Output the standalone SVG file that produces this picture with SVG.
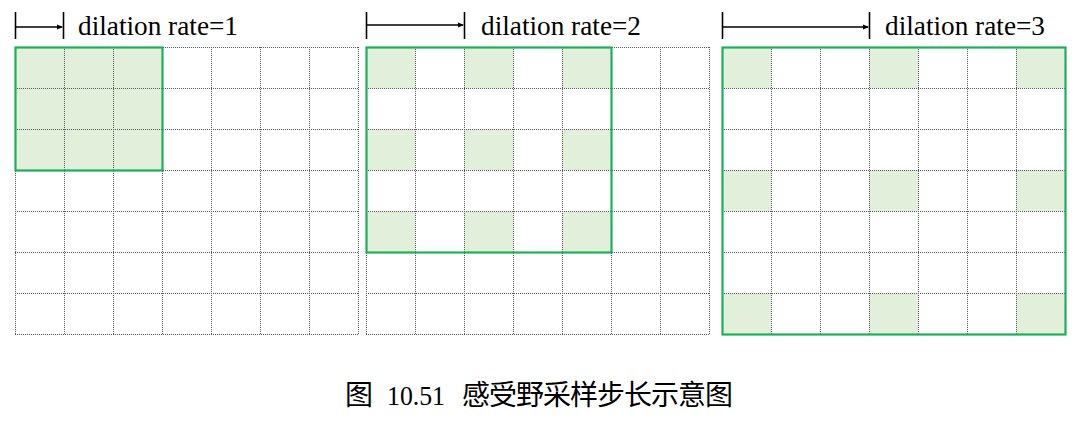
<svg xmlns="http://www.w3.org/2000/svg" width="1086" height="426" viewBox="0 0 1086 426">
<style>
.cell{fill:#E2EFDA;stroke:none}
.grid{stroke:#555;stroke-width:1;stroke-dasharray:1 1;fill:none}
.box{fill:none;stroke:#1DB05A;stroke-width:2.2}
.tick{stroke:#000;stroke-width:1.6}
.arr{stroke:#000;stroke-width:1.3;fill:none;marker-end:url(#ah)}
.lbl{font-family:"Liberation Serif","Times New Roman",serif;font-size:28px;fill:#000}
.cap{font-family:"Liberation Serif","Noto Sans CJK SC",serif;font-size:27px;fill:#000}
.capc{font-family:"Noto Sans CJK SC",sans-serif;font-size:28px;fill:#000}
</style>
<defs>
<marker id="ah" markerWidth="6" markerHeight="6" refX="5" refY="3" orient="auto" markerUnits="userSpaceOnUse">
<path d="M0,0.5 L6,3 L0,5.5 Z" fill="#000"/>
</marker>
<g id="gridlines">
<path class="grid" d="M0,0.5H343M0,41.5H343M0,82.5H343M0,123.5H343M0,164.5H343M0,205.5H343M0,246.5H343M0,287.5H343M0.5,0V288M49.5,0V288M98.5,0V288M147.5,0V288M196.5,0V288M245.5,0V288M294.5,0V288M343.5,0V288"/>
</g>
</defs>
<g id="panel1">
<rect class="cell" x="15" y="47" width="147" height="123"/>
<use href="#gridlines" x="15" y="47"/>
<rect class="box" x="15.5" y="47.5" width="147" height="123"/>
<text class="lbl" x="78" y="35" textLength="160" lengthAdjust="spacingAndGlyphs">dilation rate=1</text>
</g>
<g id="panel2">
<rect class="cell" x="366" y="47" width="49" height="41"/>
<rect class="cell" x="464" y="47" width="49" height="41"/>
<rect class="cell" x="562" y="47" width="49" height="41"/>
<rect class="cell" x="366" y="129" width="49" height="41"/>
<rect class="cell" x="464" y="129" width="49" height="41"/>
<rect class="cell" x="562" y="129" width="49" height="41"/>
<rect class="cell" x="366" y="211" width="49" height="41"/>
<rect class="cell" x="464" y="211" width="49" height="41"/>
<rect class="cell" x="562" y="211" width="49" height="41"/>
<use href="#gridlines" x="366" y="47"/>
<rect class="box" x="366.5" y="47.5" width="245" height="205"/>
<text class="lbl" x="481" y="35" textLength="160" lengthAdjust="spacingAndGlyphs">dilation rate=2</text>
</g>
<g id="panel3">
<rect class="cell" x="722" y="47" width="49" height="41"/>
<rect class="cell" x="869" y="47" width="49" height="41"/>
<rect class="cell" x="1016" y="47" width="49" height="41"/>
<rect class="cell" x="722" y="170" width="49" height="41"/>
<rect class="cell" x="869" y="170" width="49" height="41"/>
<rect class="cell" x="1016" y="170" width="49" height="41"/>
<rect class="cell" x="722" y="293" width="49" height="41"/>
<rect class="cell" x="869" y="293" width="49" height="41"/>
<rect class="cell" x="1016" y="293" width="49" height="41"/>
<use href="#gridlines" x="722" y="47"/>
<rect class="box" x="722.5" y="47.5" width="343" height="287"/>
<text class="lbl" x="885" y="35" textLength="160" lengthAdjust="spacingAndGlyphs">dilation rate=3</text>
</g>
<g id="connectors">
<line class="tick" x1="15.5" y1="12" x2="15.5" y2="39"/>
<line class="tick" x1="63.5" y1="12" x2="63.5" y2="39"/>
<line class="arr" x1="15.5" y1="27" x2="62" y2="27"/>
<line class="tick" x1="366.5" y1="12" x2="366.5" y2="39"/>
<line class="tick" x1="464.5" y1="12" x2="464.5" y2="39"/>
<line class="arr" x1="366.5" y1="25" x2="463" y2="25"/>
<line class="tick" x1="722.5" y1="12" x2="722.5" y2="39"/>
<line class="tick" x1="869.5" y1="12" x2="869.5" y2="39"/>
<line class="arr" x1="722.5" y1="27" x2="868" y2="27"/>
</g>
<g id="caption">
<text class="capc" x="345" y="405">图</text>
<text class="cap" x="387" y="405" textLength="58" lengthAdjust="spacingAndGlyphs">10.51</text>
<text class="capc" x="462" y="405" textLength="271" lengthAdjust="spacing">感受野采样步长示意图</text>
</g>
</svg>
